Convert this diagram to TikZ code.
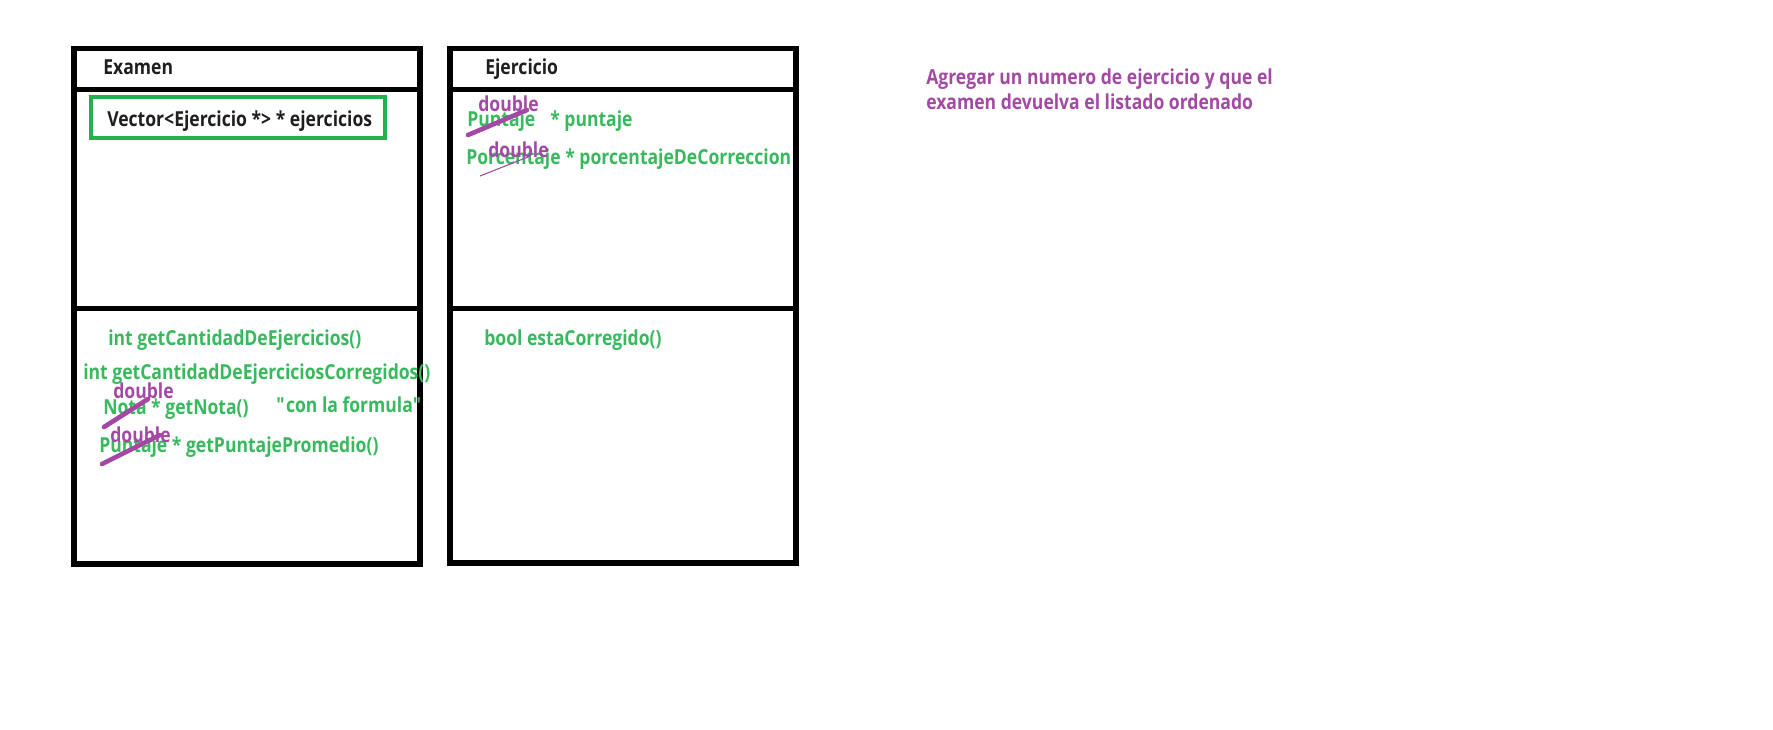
\documentclass[tikz,border=0pt]{standalone}
\usepackage{fontspec}
\setmainfont{Open Sans}[FakeStretch=0.85]
\definecolor{umlGreen}{HTML}{22B14C}
\definecolor{umlPurple}{HTML}{A349A4}
\begin{document}
\begin{tikzpicture}
[x=0.75pt,y=-0.75pt,%
  boxLine/.style={line width=3.8pt},%
  greenFrame/.style={draw=umlGreen,line width=3pt},%
  codeText/.style={anchor=base west,inner sep=0pt,font=\bfseries\fontsize{15.5}{18}\selectfont},%
  headText/.style={codeText,text=black!88},%
  attrText/.style={codeText,text=umlGreen!90!white},%
  noteText/.style={codeText,text=umlPurple},%
  strikeLine/.style={umlPurple,line width=3.5pt,line cap=round},%
  thinStrike/.style={umlPurple,line width=0.8pt}]
\useasboundingbox (0,0) rectangle (1773,729);
%% class boxes
\foreach \xl/\xr/\yb in {74/420/564, 450/796/563}
{
  \draw[boxLine] (\xl,48.5) rectangle (\xr,\yb);
  \draw[boxLine] (\xl,89.5) -- (\xr,89.5);
  \draw[boxLine] (\xl,308.5) -- (\xr,308.5);
}
%% titles
\node (examenTitle) at (103,74) [headText] {Examen};
\node (ejercicioTitle) at (485,74) [headText] {Ejercicio};
\node (vectorAttr) at (107,126) [headText] {Vector<Ejercicio *> * ejercicios};
\draw[greenFrame] (91,97) rectangle (385,138);
%% green members
\foreach \nodename/\x/\y/\txt in {puntajeType/467/126/Puntaje, puntajeName/550/126/* puntaje,
  porcentaje/466/164/Porcentaje * porcentajeDeCorreccion,
  cantidad/108/345/int getCantidadDeEjercicios(),
  corregidos/83/379/int getCantidadDeEjerciciosCorregidos(),
  nota/103/414/Nota * getNota(), formula/276/412/{\textquotedbl}con la formula{\textquotedbl},
  promedio/99/452/Puntaje * getPuntajePromedio(),
  estaCorregido/484/345/bool estaCorregido()}
{
  \node (\nodename) at (\x,\y) [attrText] {\txt};
}
%% purple corrections
\foreach \nodename/\x/\y in {doubleA/478/111, doubleB/488/157, doubleC/113/398, doubleD/110/442}
{
  \node (\nodename) at (\x,\y) [noteText] {double};
}
\draw[strikeLine] (468,135) -- (527,110);
\draw[strikeLine] (104,427) -- (148,399);
\draw[strikeLine] (102,464) -- (160,435);
\draw[thinStrike] (480,176) -- (528,157);
%% note
\node (noteA) at (926,84) [noteText] {Agregar un numero de ejercicio y que el};
\node (noteB) at (926,109) [noteText] {examen devuelva el listado ordenado};
\end{tikzpicture}
\end{document}
